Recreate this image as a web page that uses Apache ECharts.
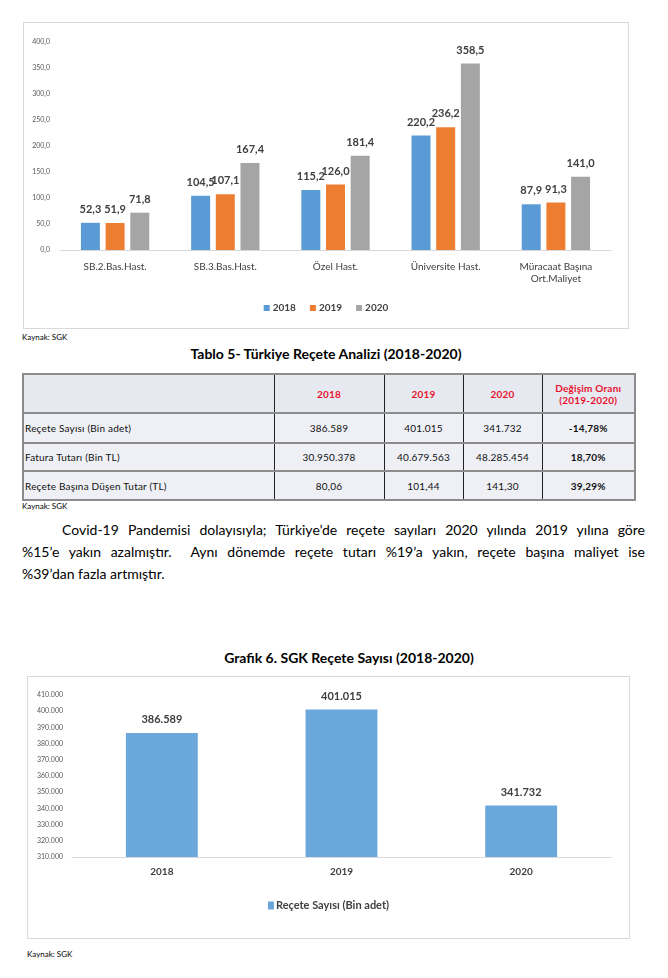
<!DOCTYPE html>
<html><head><meta charset="utf-8">
<script src="https://cdn.jsdelivr.net/npm/echarts@6/dist/echarts.min.js"></script>
<style>
html,body{margin:0;padding:0}
body{width:668px;height:978px;position:relative;background:#fff;font-family:Lato,'Open Sans',sans-serif;color:#000;overflow:hidden}
.abs{position:absolute}
#c1{left:23px;top:22px;width:606px;height:307px;border:1px solid #d9d9d9;box-sizing:border-box}
#c2{left:27px;top:676px;width:603px;height:263px;border:1px solid #d9d9d9;box-sizing:border-box}
.src{font-size:8px;color:#000}
.title{font-weight:bold;font-size:14px;text-align:center;white-space:nowrap}
#tbl{left:22px;top:373px;border-collapse:collapse;font-size:10px;color:#111;table-layout:fixed}
#tbl td{border-top:2px solid #8c8c8c;border-bottom:2px solid #8c8c8c;border-left:1px solid #222;border-right:1px solid #222;background:#eef0f5;text-align:center;padding:0;letter-spacing:0.2px}
#tbl td.l{text-align:left;padding-left:1px;border-left:2px solid #8c8c8c}
#tbl td.r{border-right:2px solid #8c8c8c;font-weight:bold}
#tbl tr.h td{background:#e6e9f0;color:#e8112d;font-weight:bold}
.pl{position:absolute;font-size:14px;line-height:22px;white-space:nowrap;color:#000}
.pj{text-align:justify;text-align-last:justify;white-space:normal}
</style></head>
<body>
<div id="c1" class="abs"></div>
<div class="abs src" style="left:22px;top:332px">Kaynak: SGK</div>
<div class="abs title" style="left:0;width:652px;top:345px">Tablo 5- Türkiye Reçete Analizi (2018-2020)</div>
<table id="tbl" class="abs"></table>
<div class="abs src" style="left:22px;top:501px">Kaynak: SGK</div>
<div class="pl pj" style="left:62px;top:519px;width:583px">Covid-19 Pandemisi dolayısıyla; Türkiye’de reçete sayıları 2020 yılında 2019 yılına göre</div>
<div class="pl pj" style="left:22px;top:541px;width:623px">%15’e yakın azalmıştır.&nbsp; Aynı dönemde reçete tutarı %19’a yakın, reçete başına maliyet ise</div>
<div class="pl" style="left:22px;top:563px">%39’dan fazla artmıştır.</div>
<div class="abs title" style="left:0;width:698px;top:649px">Grafik 6. SGK Reçete Sayısı (2018-2020)</div>
<div id="c2" class="abs"></div>
<div class="abs src" style="left:27px;top:949px">Kaynak: SGK</div>
<script>
// ---- Chart 1 data ----
const cat1 = ['SB.2.Bas.Hast.', 'SB.3.Bas.Hast.', 'Özel Hast.', 'Üniversite Hast.', 'Müracaat Başına\nOrt.Maliyet'];
const years1 = ['2018', '2019', '2020'];
const v2018 = [52.3, 104.5, 115.2, 220.2, 87.9];
const v2019 = [51.9, 107.1, 126.0, 236.2, 91.3];
const v2020 = [71.8, 167.4, 181.4, 358.5, 141.0];

// ---- Table data ----
const tblHead = ['', '2018', '2019', '2020', 'Değişim Oranı<br>(2019-2020)'];
const tblRows = ['Reçete Sayısı (Bin adet)', 'Fatura Tutarı (Bin TL)', 'Reçete Başına Düşen Tutar (TL)'];
const tbl2018 = ['386.589', '30.950.378', '80,06'];
const tbl2019 = ['401.015', '40.679.563', '101,44'];
const tbl2020 = ['341.732', '48.285.454', '141,30'];
const tblChange = ['-14,78%', '18,70%', '39,29%'];

// ---- Chart 2 data ----
const cat2 = ['2018', '2019', '2020'];
const receteSayisi = [386589, 401015, 341732];
const seriesName2 = 'Reçete Sayısı (Bin adet)';

// build table
(function(){
  const colW = [251, 110, 79, 79, 93];
  const rowH = [39, 30, 28, 29];
  let h = '<colgroup>' + colW.map(w => '<col style="width:' + w + 'px">').join('') + '</colgroup>';
  h += '<tr class="h" style="height:' + rowH[0] + 'px">' + tblHead.map((t, i) => '<td class="' + (i === 0 ? 'l' : (i === 4 ? 'r' : '')) + '">' + t + '</td>').join('') + '</tr>';
  for (let i = 0; i < tblRows.length; i++) {
    h += '<tr style="height:' + rowH[i + 1] + 'px"><td class="l">' + tblRows[i] + '</td><td>' + tbl2018[i] + '</td><td>' + tbl2019[i] + '</td><td>' + tbl2020[i] + '</td><td class="r">' + tblChange[i] + '</td></tr>';
  }
  document.getElementById('tbl').innerHTML = h;
  document.getElementById('tbl').style.width = colW.reduce((a, b) => a + b, 0) + 'px';
})();

const FONT = 'Lato, "Open Sans", sans-serif';
const fmt1 = v => v.toFixed(1).replace('.', ',');
const dots = v => String(Math.round(v)).replace(/\B(?=(\d{3})+(?!\d))/g, '.');

const c1 = echarts.init(document.getElementById('c1'), null, {renderer: 'canvas'});
const colors1 = ['#5B9BD5', '#ED7D31', '#A5A5A5'];
const vals1 = [v2018, v2019, v2020];
c1.setOption({
  animation: false,
  textStyle: {fontFamily: FONT},
  grid: {left: 36, right: 17, top: 19, bottom: 78},
  legend: {
    data: years1, bottom: 10, left: 'center', itemWidth: 6, itemHeight: 6, itemGap: 14,
    icon: 'rect', textStyle: {fontFamily: FONT, fontSize: 10, fontWeight: 'bold', color: '#404040', padding: [0, 0, 0, -2]}
  },
  xAxis: {
    type: 'category', data: cat1,
    axisLine: {lineStyle: {color: '#d9d9d9', width: 1}}, axisTick: {show: false},
    axisLabel: {fontFamily: FONT, fontSize: 10, color: '#404040', margin: 11, lineHeight: 12, interval: 0}
  },
  yAxis: {
    type: 'value', min: 0, max: 400, interval: 50,
    axisLine: {show: false}, axisTick: {show: false}, splitLine: {show: false},
    axisLabel: {fontFamily: FONT, fontSize: 7, color: '#595959', formatter: fmt1, margin: 10}
  },
  series: years1.map((y, i) => ({
    name: y, type: 'bar', data: vals1[i], barGap: '30%', barCategoryGap: '38%',
    itemStyle: {color: colors1[i]},
    label: {show: true, position: 'top', distance: 8, formatter: p => fmt1(p.value), fontFamily: FONT, fontSize: 11, fontWeight: 'bold', color: '#404040'}
  }))
});

const c2 = echarts.init(document.getElementById('c2'), null, {renderer: 'canvas'});
c2.setOption({
  animation: false,
  textStyle: {fontFamily: FONT},
  grid: {left: 44, right: 18, top: 18, bottom: 81},
  legend: {
    data: [seriesName2], top: 218, left: 'center', itemWidth: 6, itemHeight: 8, icon: 'rect',
    textStyle: {fontFamily: FONT, fontSize: 11, fontWeight: 'bold', color: '#404040', padding: [0, 0, 0, -3]}
  },
  xAxis: {
    type: 'category', data: cat2,
    axisLine: {lineStyle: {color: '#d9d9d9', width: 1}}, axisTick: {show: false},
    axisLabel: {fontFamily: FONT, fontSize: 10, fontWeight: 'bold', color: '#404040', margin: 10}
  },
  yAxis: {
    type: 'value', min: 310000, max: 410000, interval: 10000,
    axisLine: {show: false}, axisTick: {show: false}, splitLine: {show: false},
    axisLabel: {fontFamily: FONT, fontSize: 7, color: '#595959', formatter: dots, margin: 9}
  },
  series: [{
    name: seriesName2, type: 'bar', data: receteSayisi, barCategoryGap: '60%',
    itemStyle: {color: '#6AA7DA'},
    label: {show: true, position: 'top', distance: 8, formatter: p => dots(p.value), fontFamily: FONT, fontSize: 11, fontWeight: 'bold', color: '#404040'}
  }]
});
</script>
</body></html>
